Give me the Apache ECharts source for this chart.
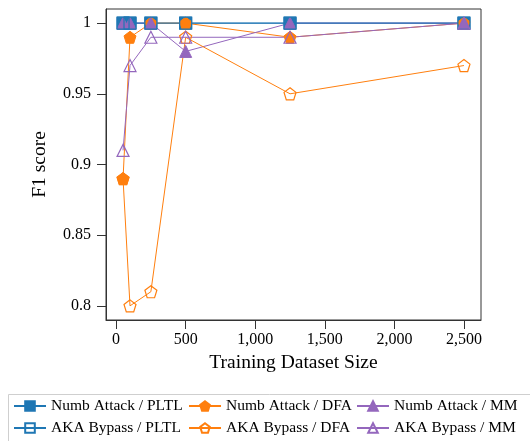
<!DOCTYPE html>
<html>
<head>
<meta charset="utf-8">
<script src="https://cdn.jsdelivr.net/npm/echarts@6/dist/echarts.min.js"></script>
<style>html,body{margin:0;padding:0;background:#fff;}#c{width:530px;height:441px;}</style>
</head>
<body>
<div id="c"></div>
<script>
const sizes = [50, 100, 250, 500, 1250, 2500];
const numbPLTL = [1, 1, 1, 1, 1, 1];
const akaPLTL = [1, 1, 1, 1, 1, 1];
const numbDFA = [0.89, 0.99, 1, 1, 0.99, 1];
const akaDFA = [0.89, 0.80, 0.81, 0.99, 0.95, 0.97];
const numbMM = [1, 1, 1, 0.98, 1, 1];
const akaMM = [0.91, 0.97, 0.99, 0.99, 0.99, 1];
const xTicks = [0, 500, 1000, 1500, 2000, 2500];
const yTicks = [0.8, 0.85, 0.9, 0.95, 1];

const BLUE = '#1f77b4', ORANGE = '#ff7f0e', PURPLE = '#9467bd';
const PENT = 'path://M50 0 L97.6 34.5 L79.4 90.5 L20.6 90.5 L2.4 34.5 Z';
const FONT = 'Liberation Serif';

function pts(ys) { return sizes.map((x, i) => [x, ys[i]]); }
function mk(name, ys, color, symbol, filled, size) {
  return {
    name, type: 'line', data: pts(ys), symbol, symbolSize: size,
    lineStyle: { color, width: 1 },
    itemStyle: filled ? { color, borderColor: color, borderWidth: 1 }
                      : { color: 'rgba(255,255,255,0)', borderColor: color, borderWidth: 1.2 },
    emphasis: { disabled: true }, animation: false
  };
}

const chart = echarts.init(document.getElementById('c'), null, { renderer: 'canvas' });
const legendCommon = {
  orient: 'vertical', top: 398, padding: 0, itemWidth: 32, itemHeight: 12, itemGap: 6,
  textStyle: { fontFamily: FONT, fontSize: 15.5, color: '#000', lineHeight: 16 },
  selectedMode: false
};
chart.setOption({
  animation: false,
  grid: { left: 106, right: 49, top: 9, bottom: 121, show: true, borderColor: '#333', borderWidth: 1 },
  xAxis: {
    type: 'value', min: -72.5, max: 2622.5,
    name: 'Training Dataset Size', nameLocation: 'middle', nameGap: 32,
    nameTextStyle: { fontFamily: FONT, fontSize: 19.5, color: '#000' },
    axisLine: { show: true, onZero: false, lineStyle: { color: '#333' } },
    axisTick: { show: true, inside: false, length: 9, customValues: xTicks, lineStyle: { color: '#333' } },
    axisLabel: { customValues: xTicks, margin: 12, fontFamily: FONT, fontSize: 16, color: '#000',
      formatter: v => v.toLocaleString('en-US') },
    splitLine: { show: false }
  },
  yAxis: {
    type: 'value', min: 0.79, max: 1.01,
    name: 'F1 score', nameLocation: 'middle', nameGap: 56,
    nameTextStyle: { fontFamily: FONT, fontSize: 19.5, color: '#000' },
    axisLine: { show: true, onZero: false, lineStyle: { color: '#333' } },
    axisTick: { show: true, inside: false, length: 9, customValues: yTicks, lineStyle: { color: '#333' } },
    axisLabel: { customValues: yTicks, margin: 15, fontFamily: FONT, fontSize: 16, color: '#000',
      formatter: v => String(+v.toFixed(2)) },
    splitLine: { show: false }
  },
  legend: [
    Object.assign({ left: 13, data: ['Numb Attack / PLTL', 'AKA Bypass / PLTL'] }, legendCommon),
    Object.assign({ left: 188, data: ['Numb Attack / DFA', 'AKA Bypass / DFA'] }, legendCommon),
    Object.assign({ left: 356, data: ['Numb Attack / MM', 'AKA Bypass / MM'] }, legendCommon)
  ],
  graphic: [{ type: 'rect', left: 6, top: 392, shape: { width: 600, height: 100 },
    style: { fill: 'none', stroke: '#cfcfcf', lineWidth: 1 }, silent: true }],
  series: [
    mk('Numb Attack / PLTL', numbPLTL, BLUE, 'rect', true, 12),
    mk('Numb Attack / DFA', numbDFA, ORANGE, PENT, true, 12),
    mk('Numb Attack / MM', numbMM, PURPLE, 'triangle', true, 12),
    mk('AKA Bypass / PLTL', akaPLTL, BLUE, 'rect', false, 12),
    mk('AKA Bypass / DFA', akaDFA, ORANGE, PENT, false, 12),
    mk('AKA Bypass / MM', akaMM, PURPLE, 'triangle', false, 12)
  ]
});
</script>
</body>
</html>
